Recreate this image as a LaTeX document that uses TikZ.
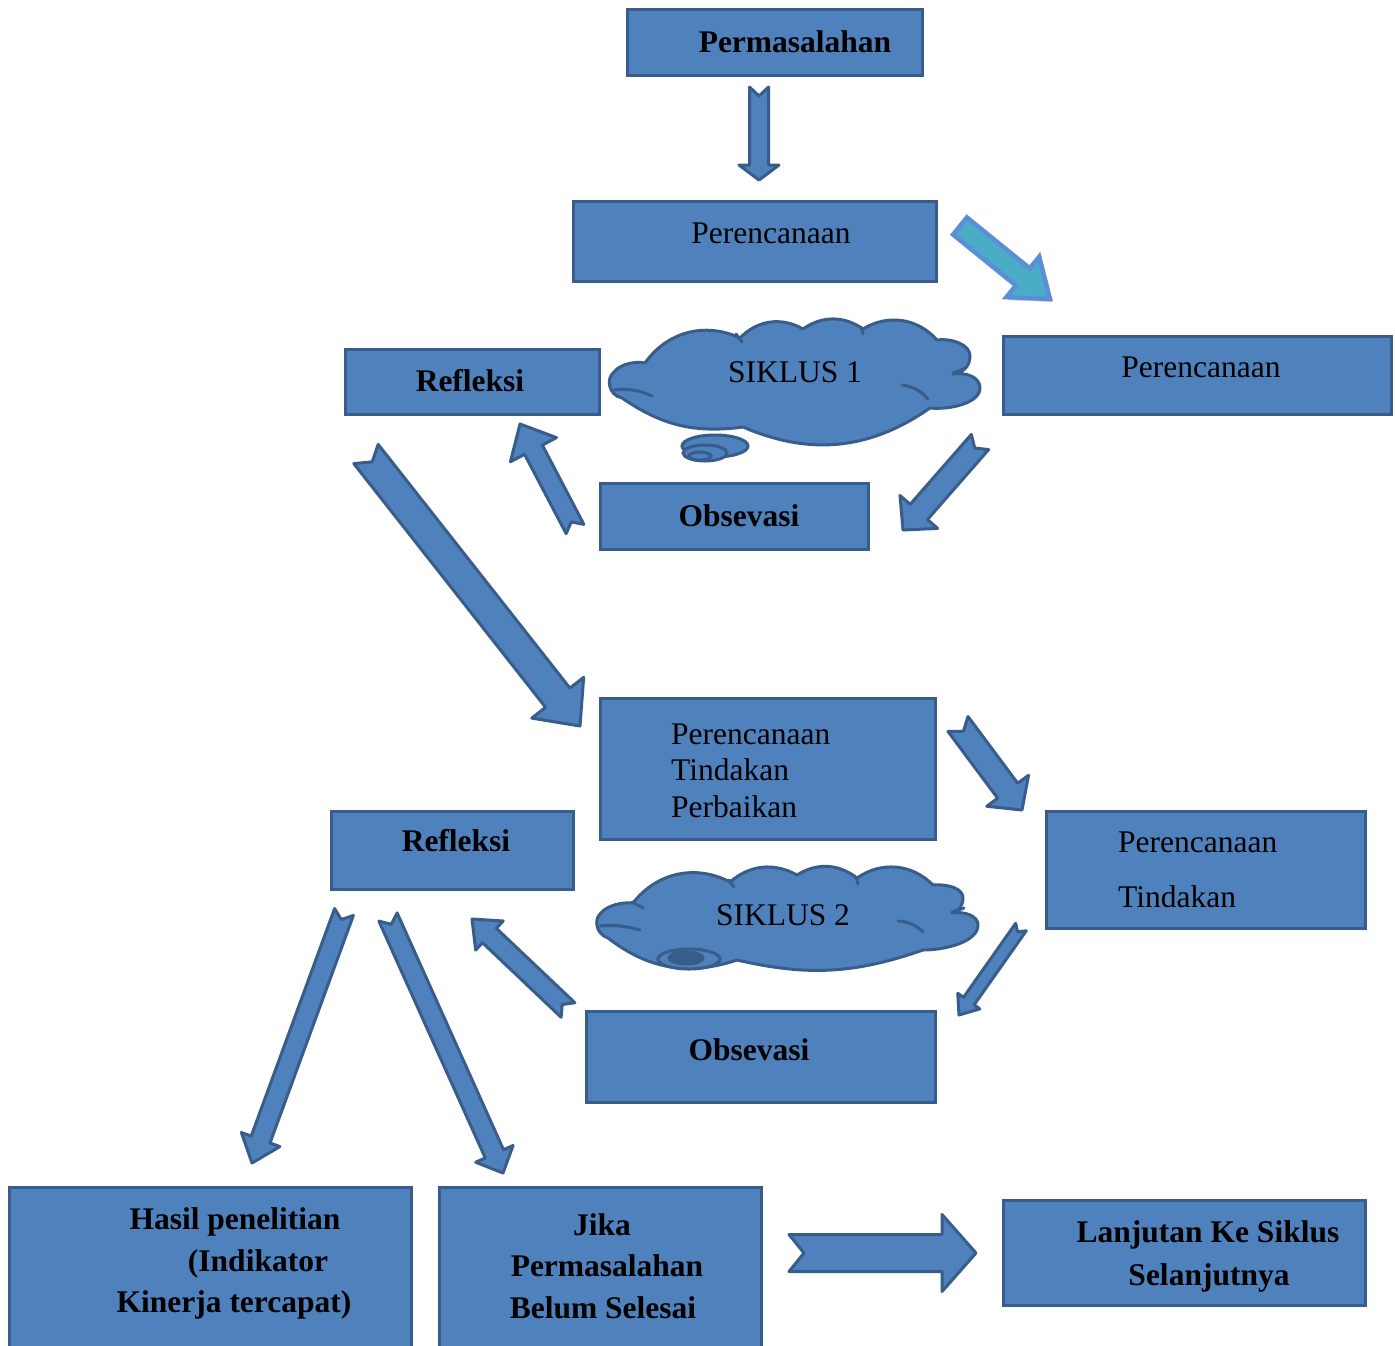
\documentclass[tikz,border=0pt]{standalone}
\usepackage{fontspec}
\setmainfont{Liberation Serif}
\usetikzlibrary{calc,shadows}
\definecolor{bfill}{HTML}{4F81BD}
\definecolor{bdraw}{HTML}{385D8A}
\definecolor{tfill}{HTML}{4BACC6}
\definecolor{tdraw}{HTML}{5A8FD8}
\definecolor{sgray}{HTML}{98AAB8}
\newcommand\blockarrow[7][]{%
  \coordinate (#2-h) at ($(#3)!#6pt!(#2)$);
  \draw[arrowshape,#1] ($(#2)!#4pt!90:(#3)$) -- ($(#2-h)!#4pt!90:(#3)$) -- ($(#2-h)!#5pt!90:(#3)$) -- (#3)
    -- ($(#2-h)!#5pt!-90:(#3)$) -- ($(#2-h)!#4pt!-90:(#3)$) -- ($(#2)!#4pt!-90:(#3)$) -- ($(#2)!#7pt!(#3)$) -- cycle;}
\tikzset{
  box/.style={draw=bdraw, fill=bfill, line width=3pt, inner sep=0pt},
  arrowshape/.style={draw=bdraw, fill=bfill, line width=3pt, line join=round},
  cloudpath/.style={draw=bdraw, fill=bfill, line width=3pt, line join=round},
  inner/.style={draw=bdraw, line width=3pt, line cap=round},
  swirl/.style={draw=bdraw, fill=bfill, line width=3pt},
  txt/.style={font=\fontsize{31.5}{37}\selectfont, inner sep=0pt, anchor=base},
  btxt/.style={txt, font=\fontsize{31.5}{37}\selectfont\bfseries},
}
\begin{document}
\begin{tikzpicture}[x=1pt,y=-1pt]
\useasboundingbox[fill=white] (0,0) rectangle (1395,1345);
% boxes
\node[box, minimum width=295pt, minimum height=66pt] (perm) at (775,42.5) {};
\node[box, minimum width=363pt, minimum height=80pt] (renc1) at (755,241.5) {};
\node[box, minimum width=388pt, minimum height=78pt] (renc2) at (1197.5,375.5) {};
\node[box, minimum width=254pt, minimum height=65pt] (refl1) at (472.5,382) {};
\node[box, minimum width=268pt, minimum height=66pt] (obs1) at (734.5,516.5) {};
\node[box, minimum width=335pt, minimum height=141pt] (rtp) at (768,769) {};
\node[box, minimum width=242pt, minimum height=78pt] (refl2) at (452.5,850.5) {};
\node[box, minimum width=319pt, minimum height=117pt] (rt) at (1206,870) {};
\node[box, minimum width=349pt, minimum height=91pt] (obs2) at (761,1057) {};
\node[box, minimum width=402pt, minimum height=171pt] (hasil) at (210.5,1273) {};
\node[box, minimum width=322pt, minimum height=171pt] (jika) at (600.5,1273) {};
\node[box, minimum width=362pt, minimum height=105pt] (lanj) at (1184.5,1253) {};
% cloud 1
\coordinate (cl1) at (796,381);
\draw[cloudpath] (622,398) .. controls (608,395) and (606,378) .. (614,372)
  .. controls (620,364) and (635,361) .. (645,363)
  to[bend left=40] (740,338) to[bend left=38] (803,329) to[bend left=35] (863,329) to[bend left=40] (937,340)
  .. controls (953,338) and (970,345) .. (970,356) .. controls (970,367) and (962,373) .. (953,374)
  .. controls (966,372) and (980,377) .. (980,388) .. controls (980,403) and (950,410) .. (930,408)
  to[bend left=29] (743,427) to[bend left=21] cycle;
\draw[inner] (614,390) to[bend left=15] (652,396);
\draw[inner] (736,334) -- (742,342);
\draw[inner] (861,327) -- (863,334);
\draw[inner] (953,373) -- (966,368);
\draw[inner] (902,385) to[bend left=20] (928,399);
\draw[swirl] (715,446) ellipse [x radius=33, y radius=11];
\draw[swirl] (705,453) ellipse [x radius=22, y radius=8];
\draw[swirl] (700,456) ellipse [x radius=11, y radius=4];
% cloud 2
\coordinate (cl2) at (788,919);
\draw[cloudpath] (608,938) .. controls (596,934) and (594,920) .. (600,914)
  .. controls (607,905) and (622,902) .. (633,903)
  to[bend left=40] (730,882) to[bend left=35] (797,875) to[bend left=35] (857,878) to[bend left=40] (933,885)
  .. controls (950,884) and (963,889) .. (963,898) .. controls (963,906) and (958,912) .. (952,913)
  .. controls (965,911) and (978,916) .. (978,925) .. controls (978,942) and (945,950) .. (923,950)
  to[bend left=16] (737,960) to[bend left=28] cycle;
\draw[inner] (600,926) to[bend left=10] (640,930);
\draw[inner] (632,902) -- (643,908);
\draw[inner] (729,880) -- (734,887);
\draw[inner] (856,877) -- (858,884);
\draw[inner] (952,912) -- (964,908);
\draw[inner] (898,921) to[bend left=20] (923,932);
\draw[swirl] (689,959) ellipse [x radius=31, y radius=10];
\draw[swirl, fill=bdraw] (686,958) ellipse [x radius=17, y radius=6];
% texts
\node[btxt] (tperm) at (795,52) {Permasalahan};
\node[txt] (trenc1) at (771,243) {Perencanaan};
\node[txt] (trenc2) at (1201,377) {Perencanaan};
\node[btxt] (trefl1) at (470,391) {Refleksi};
\node[txt] (tsik1) at (795,382) {SIKLUS 1};
\node[btxt] (tobs1) at (739,526) {Obsevasi};
\node[txt, anchor=base west] (trtp1) at (671,744) {Perencanaan};
\node[txt, anchor=base west] (trtp2) at (671,780.5) {Tindakan};
\node[txt, anchor=base west] (trtp3) at (671,817) {Perbaikan};
\node[btxt] (trefl2) at (456,851) {Refleksi};
\node[txt, anchor=base west] (trt1) at (1118,852) {Perencanaan};
\node[txt, anchor=base west] (trt2) at (1118,907) {Tindakan};
\node[txt] (tsik2) at (783,925) {SIKLUS 2};
\node[btxt] (tobs2) at (749,1060) {Obsevasi};
\node[btxt] (th1) at (235,1229) {Hasil penelitian};
\node[btxt] (th2) at (258,1271) {(Indikator};
\node[btxt] (th3) at (234,1312) {Kinerja tercapat)};
\node[btxt] (tj1) at (602,1235) {Jika};
\node[btxt] (tj2) at (607,1276) {Permasalahan};
\node[btxt] (tj3) at (603,1318) {Belum Selesai};
\node[btxt] (tl1) at (1208,1242) {Lanjutan Ke Siklus};
\node[btxt] (tl2) at (1209,1285) {Selanjutnya};
% arrow end points
\coordinate (a1s) at (759,87);   \coordinate (a1e) at (759,180);
\coordinate (a2s) at (960,226);  \coordinate (a2e) at (1050,299);
\coordinate (a3s) at (980,442);  \coordinate (a3e) at (903,530);
\coordinate (a4s) at (575,529);  \coordinate (a4e) at (520,424);
\coordinate (a5s) at (366,454);  \coordinate (a5e) at (580,726);
\coordinate (a6s) at (958,724);  \coordinate (a6e) at (1022,810);
\coordinate (a7s) at (1021,927); \coordinate (a7e) at (959,1015);
\coordinate (a8s) at (568,1010); \coordinate (a8e) at (472,919);
\coordinate (a9s) at (344,912);  \coordinate (a9e) at (252,1163);
\coordinate (a10s) at (388,917); \coordinate (a10e) at (503,1173);
\coordinate (a11s) at (789,1253); \coordinate (a11e) at (976,1253);
% arrows
\blockarrow{a1s}{a1e}{9.5}{20}{15}{9}
\blockarrow[draw=tdraw, fill=tfill, line width=4.5pt, line join=miter, drop shadow={shadow xshift=2pt, shadow yshift=-3pt, fill=sgray, draw=none}]{a2s}{a2e}{11}{26}{35}{0}
\blockarrow{a3s}{a3e}{11.5}{25}{24}{8}
\blockarrow{a4s}{a4e}{10}{26}{29}{8}
\blockarrow{a5s}{a5e}{15.5}{33}{36}{10}
\blockarrow{a6s}{a6e}{12.5}{26}{24}{9}
\blockarrow{a7s}{a7e}{6.5}{13.5}{17}{6}
\blockarrow{a8s}{a8e}{10}{20}{24}{8}
\blockarrow{a9s}{a9e}{10}{20.5}{25}{8}
\blockarrow{a10s}{a10e}{10}{20.5}{21}{8}
\blockarrow{a11s}{a11e}{18.5}{38.5}{34}{15}
\end{tikzpicture}
\end{document}
